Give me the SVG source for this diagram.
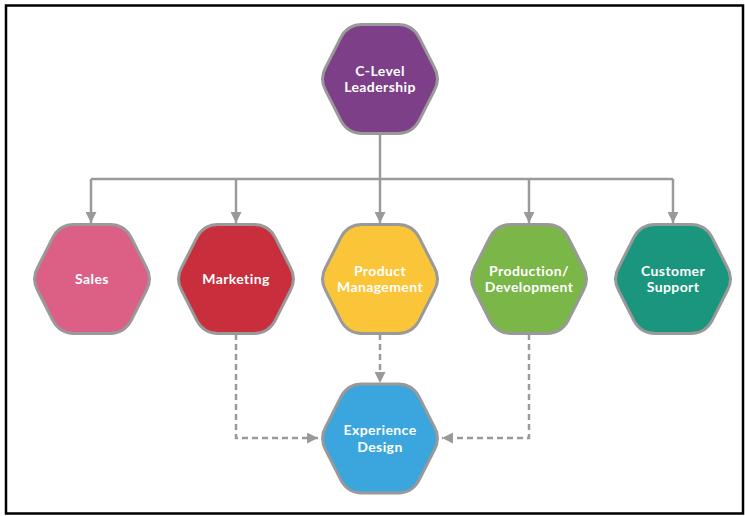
<svg xmlns="http://www.w3.org/2000/svg" width="745" height="516" viewBox="0 0 745 516">
<style>
.hex{stroke:#999;stroke-width:3}
.lbl{font-family:Lato,"Open Sans","Liberation Sans",sans-serif;font-weight:bold;font-size:14px;fill:#fff;text-anchor:middle;letter-spacing:0.4px}
.conn{fill:none;stroke:#9a9a9a;stroke-width:2.5}
.dash{stroke-dasharray:6 4}
</style>
<defs>
<path id="hx" d="M -54.03,-12.13 L -38.97,-41.87 Q -32,-54.5 -18,-54.5 L 18,-54.5 Q 32,-54.5 38.97,-41.87 L 54.03,-12.13 Q 61,0 54.03,12.13 L 38.97,41.87 Q 32,54.5 18,54.5 L -18,54.5 Q -32,54.5 -38.97,41.87 L -54.03,12.13 Q -61,0 -54.03,-12.13 Z"/>
<marker id="ah" viewBox="0 0 10 10" refX="10" refY="5" markerWidth="4.4" markerHeight="4.4" orient="auto" markerUnits="strokeWidth">
<path d="M0,0 L10,5 L0,10 Z" fill="#9a9a9a"/>
</marker>
</defs>
<rect x="0" y="0" width="745" height="516" fill="#fff"/>
<rect x="6" y="5.5" width="737" height="508" fill="none" stroke="#000" stroke-width="2.5"/>
<g id="connectors">
<path class="conn" d="M380,133 V179"/>
<path class="conn" d="M91,179 H673"/>
<path class="conn" d="M91,179 V223" marker-end="url(#ah)"/>
<path class="conn" d="M236,179 V223" marker-end="url(#ah)"/>
<path class="conn" d="M380,179 V223" marker-end="url(#ah)"/>
<path class="conn" d="M529,179 V223" marker-end="url(#ah)"/>
<path class="conn" d="M673,179 V223" marker-end="url(#ah)"/>
<path class="conn dash" d="M236,334 V438 H318" marker-end="url(#ah)"/>
<path class="conn dash" d="M380,334 V383" marker-end="url(#ah)"/>
<path class="conn dash" d="M529,334 V438 H442" marker-end="url(#ah)"/>
</g>
<g id="clevel" transform="translate(380,79)">
<use href="#hx" class="hex" fill="#7C3F88"/>
<text class="lbl" y="-3.5">C-Level</text>
<text class="lbl" y="13">Leadership</text>
</g>
<g id="sales" transform="translate(92,279)">
<use href="#hx" class="hex" fill="#DC5F86"/>
<text class="lbl" y="5">Sales</text>
</g>
<g id="marketing" transform="translate(236,279)">
<use href="#hx" class="hex" fill="#C82E3B"/>
<text class="lbl" y="5">Marketing</text>
</g>
<g id="product" transform="translate(380,279)">
<use href="#hx" class="hex" fill="#FBC53A"/>
<text class="lbl" y="-3.5">Product</text>
<text class="lbl" y="13">Management</text>
</g>
<g id="production" transform="translate(529,279)">
<use href="#hx" class="hex" fill="#7AB648"/>
<text class="lbl" y="-3.5">Production/</text>
<text class="lbl" y="13">Development</text>
</g>
<g id="support" transform="translate(673,279)">
<use href="#hx" class="hex" fill="#1A967E"/>
<text class="lbl" y="-3.5">Customer</text>
<text class="lbl" y="13">Support</text>
</g>
<g id="experience" transform="translate(380,438.5)">
<use href="#hx" class="hex" fill="#3BA6DD"/>
<text class="lbl" y="-3.5">Experience</text>
<text class="lbl" y="13">Design</text>
</g>
</svg>
